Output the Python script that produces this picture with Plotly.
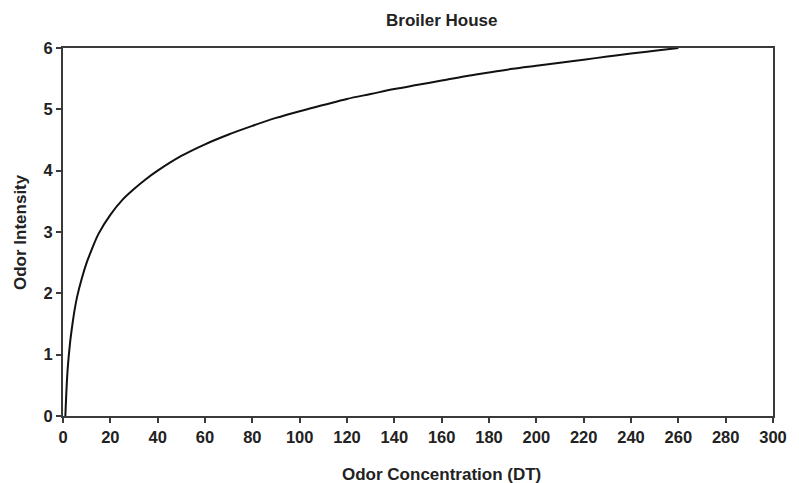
import plotly.graph_objects as go

# Values
concentration = [1, 1.5, 2, 3, 4, 5, 6, 8, 10, 12, 15, 20, 25, 30, 35, 40, 50,
                 60, 70, 80, 90, 100, 110, 120, 130, 140, 150, 160, 170, 180,
                 190, 200, 210, 220, 230, 240, 250, 260]
intensity = [0.0, 0.45, 0.78, 1.2, 1.5, 1.75, 1.95, 2.25, 2.5, 2.7, 2.97, 3.28,
             3.52, 3.7, 3.86, 4.0, 4.24, 4.43, 4.59, 4.73, 4.86, 4.97, 5.07,
             5.17, 5.25, 5.33, 5.40, 5.47, 5.54, 5.60, 5.66, 5.71, 5.76, 5.81,
             5.86, 5.91, 5.955, 6.0]

x_ticks = list(range(0, 301, 20))
y_ticks = [0, 1, 2, 3, 4, 5, 6]

title_text = "Broiler House"
x_title = "Odor Concentration (DT)"
y_title = "Odor Intensity"

font_family = "Liberation Sans, Arial, sans-serif"
ink = "#222222"
axis_col = "#3a3a3a"

fig = go.Figure()
fig.add_trace(go.Scatter(
    x=concentration, y=intensity, mode="lines",
    line=dict(color="#111111", width=2, shape="spline", smoothing=1.0),
    showlegend=False, hoverinfo="x+y",
))

axis_common = dict(
    showgrid=False, zeroline=False, showline=True, linecolor=axis_col,
    linewidth=2, mirror=True, ticks="outside", ticklen=5, tickwidth=1.5,
    tickcolor=axis_col,
    tickfont=dict(family=font_family, size=16.5, color=ink, weight="bold"),
)

fig.update_layout(
    width=799, height=483,
    margin=dict(l=63, r=20, t=48, b=67),
    paper_bgcolor="white", plot_bgcolor="white",
    xaxis=dict(range=[0, 300], tickvals=x_ticks, **axis_common),
    yaxis=dict(range=[0, 6], tickvals=y_ticks, **axis_common),
    annotations=[
        dict(text=title_text, xref="paper", yref="paper", x=0.5 + (444.5 - 421) / 716,
             y=1, yshift=28, showarrow=False, xanchor="center", yanchor="middle",
             font=dict(family=font_family, size=17, color=ink, weight="bold")),
        dict(text=x_title, xref="paper", yref="paper", x=0.5 + (445 - 421) / 716,
             y=0, yshift=-58, showarrow=False, xanchor="center", yanchor="middle",
             font=dict(family=font_family, size=17, color=ink, weight="bold")),
        dict(text=y_title, xref="paper", yref="paper", x=0, xshift=-43,
             y=0.5, showarrow=False, xanchor="center", yanchor="middle",
             textangle=-90,
             font=dict(family=font_family, size=17, color=ink, weight="bold")),
    ],
)

fig.write_html(
    "out.html",
    config={"displayModeBar": False},
    post_script="document.body.style.margin='0';document.body.style.overflow='hidden';",
)
